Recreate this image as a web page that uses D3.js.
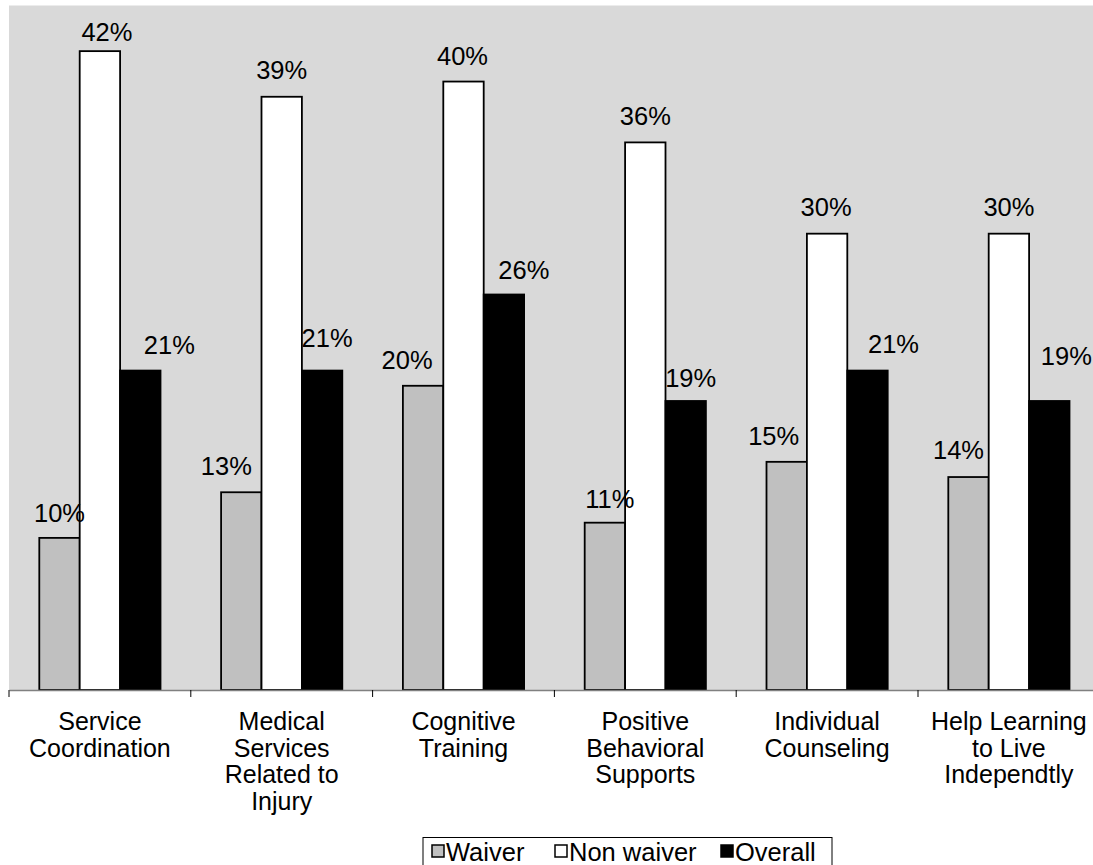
<!DOCTYPE html>
<html><head><meta charset="utf-8">
<script src="https://cdn.jsdelivr.net/npm/d3@7/dist/d3.min.js"></script>
<style>
body{margin:0;background:#fff}
svg{display:block;font-family:Arial,"Liberation Sans",sans-serif}
</style>
</head><body>
<svg id="chart" width="1093" height="865"></svg>
<script>
// ---- data ----
const categories = ["Service|Coordination", "Medical|Services|Related to|Injury", "Cognitive|Training", "Positive|Behavioral|Supports", "Individual|Counseling", "Help Learning|to Live|Independtly"];
const seriesNames = ["Waiver", "Non waiver", "Overall"];
const waiver    = [10, 13, 20, 11, 15, 14];
const nonWaiver = [42, 39, 40, 36, 30, 30];
const overall   = [21, 21, 26, 19, 21, 19];
const yDomainMax = 45;

// ---- layout / style (label nudges relative to bar centre/top, per series, per category) ----
const labelNudgeX = [
  [0, -15, -16, 5, -13, -10],
  [7, 0, -1, 0, -1, 0],
  [29, 5, 20, 5, 26, 17]
];
const labelNudgeY = [
  [1, 0, 0, 2, 0, -1],
  [7, -1, 0, 0, -1, -1],
  [0, -7, 1, 3, -1, -19]
];
const seriesData = [waiver, nonWaiver, overall];
const fills = ["#C0C0C0", "#FFFFFF", "#000000"];
const plot = {left: 9, right: 9 + 6 * 181.8, top: 5.5, bottom: 690};
const labelFont = 25.5;
const catFont = 25;
const legendFont = 25.5;
const legendItemX = [432, 555, 721];

const svg = d3.select("#chart");

const x0 = d3.scaleBand().domain(categories).range([plot.left, plot.right]).paddingInner(0).paddingOuter(0);
const x1 = d3.scaleBand().domain(seriesNames).range([0, x0.bandwidth()]).paddingOuter(0.75).paddingInner(0);
const y = d3.scaleLinear().domain([0, yDomainMax]).range([plot.bottom, plot.top]);

// plot background
svg.append("rect").attr("x", plot.left).attr("y", plot.top)
  .attr("width", plot.right - plot.left).attr("height", plot.bottom - plot.top)
  .attr("fill", "#D9D9D9");

// bars
const groups = svg.selectAll("g.grp").data(categories).join("g")
  .attr("class", "grp")
  .attr("transform", d => `translate(${x0(d)},0)`);

groups.each(function(cat, ci) {
  const g = d3.select(this);
  seriesNames.forEach((s, si) => {
    const v = seriesData[si][ci];
    g.append("rect")
      .attr("x", x1(s)).attr("y", y(v))
      .attr("width", x1.bandwidth()).attr("height", y(0) - y(v))
      .attr("fill", fills[si]).attr("stroke", "#000").attr("stroke-width", 1.8);
  });
});
groups.each(function(cat, ci) {
  const g = d3.select(this);
  seriesNames.forEach((s, si) => {
    const v = seriesData[si][ci];
    g.append("text")
      .attr("x", x1(s) + x1.bandwidth() / 2 + labelNudgeX[si][ci])
      .attr("y", y(v) - 17 + labelNudgeY[si][ci])
      .attr("text-anchor", "middle")
      .attr("font-size", labelFont)
      .attr("fill", "#000")
      .text(v + "%");
  });
});

// x axis
const xAxis = d3.axisBottom(x0).tickSize(0).tickFormat("");
const axG = svg.append("g").attr("transform", `translate(0,${plot.bottom})`).call(xAxis);
axG.select(".domain").attr("stroke", "#808080").attr("stroke-width", 1.5);
const bounds = categories.map(c => x0(c));
svg.selectAll("line.btick").data(bounds).join("line")
  .attr("class", "btick")
  .attr("x1", d => d).attr("x2", d => d)
  .attr("y1", plot.bottom).attr("y2", plot.bottom + 7)
  .attr("stroke", "#000").attr("stroke-width", 1);

// category labels
categories.forEach(c => {
  const lines = c.split("|");
  const t = svg.append("text")
    .attr("text-anchor", "middle")
    .attr("font-size", catFont)
    .attr("fill", "#000");
  lines.forEach((ln, i) => {
    t.append("tspan").attr("x", x0(c) + x0.bandwidth() / 2)
      .attr("y", plot.bottom + 40 + i * 26.5).text(ln);
  });
});

// legend
const legend = svg.append("g");
legend.append("rect").attr("x", 423).attr("y", 837.5).attr("width", 409).attr("height", 32)
  .attr("fill", "#fff").attr("stroke", "#000").attr("stroke-width", 1);
const ly = 851;
seriesNames.forEach((s, si) => {
  const lx = legendItemX[si];
  legend.append("rect").attr("x", lx).attr("y", ly - 6).attr("width", 12).attr("height", 12)
    .attr("fill", fills[si]).attr("stroke", "#000").attr("stroke-width", 1.5);
  legend.append("text").attr("x", lx + 14).attr("y", ly + 9.5)
    .attr("font-size", legendFont).attr("fill", "#000").text(s);
});
</script>
</body></html>
